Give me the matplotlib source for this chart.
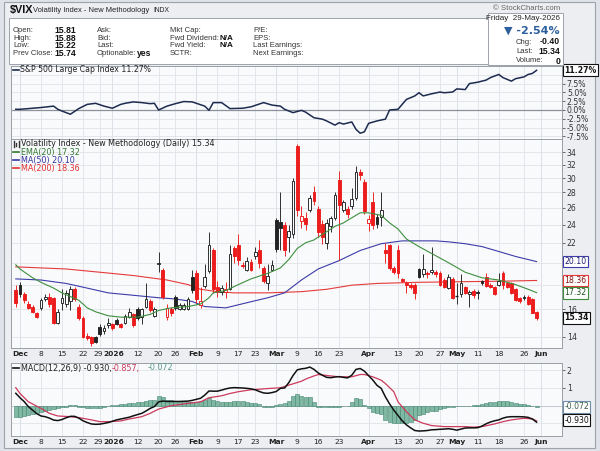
import matplotlib
matplotlib.use('Agg')
import matplotlib.pyplot as plt
from matplotlib.patches import Rectangle
from matplotlib.lines import Line2D
from matplotlib.transforms import blended_transform_factory as blend, ScaledTranslation
import numpy as np

# ---------------- data ----------------
day_idx = list(range(-6, 119))   # trading-day index, 0 = 8 Dec 2025, 118 = 29 May 2026
opens = [17.5, 18.0, 17.2, 16.4, 16.2, 15.7, 16.1, 16.8, 17.0, 16.9, 15.0, 16.5, 16.4, 16.6, 17.6, 16.2,
         15.3, 14.1, 14.0, 14.0, 14.7, 14.4, 14.8, 14.9, 15.2, 14.9, 15.0, 15.4, 15.6, 16.0, 15.4, 16.2,
         16.6, 15.5, 19.9, 19.3, 15.4, 16.0, 17.0, 16.0, 16.05, 16.0, 18.7, 19.0, 16.3, 17.9, 19.2, 21.2,
         17.8, 17.4, 17.4, 17.6, 21.5, 21.8, 19.8, 19.3, 20.1, 20.6, 21.3, 19.5, 18.1, 19.3, 24.5, 24.3,
         24.0, 22.6, 22.9, 35.0, 24.4, 24.8, 25.8, 28.0, 25.9, 24.1, 22.0, 23.8, 24.8, 29.8, 25.8, 25.9,
         26.2, 27.3, 30.9, 29.5, 24.2, 26.8, 24.9, 24.9, 21.2, 21.8, 19.5, 21.2, 18.5, 18.1, 18.0, 18.0,
         19.4, 18.9, 19.0, 19.1, 19.1, 19.0, 18.4, 17.7, 18.5, 17.05, 17.2, 17.8, 17.2, 17.45, 17.35, 18.3,
         18.7, 18.0, 17.8, 18.0, 19.0, 18.1, 18.1, 17.6, 16.9, 17.0, 17.0, 16.8, 15.81]
highs = [18.0, 18.2, 17.4, 16.6, 16.3, 15.8, 16.9, 17.2, 17.3, 17.0, 16.0, 17.6, 17.5, 17.9, 17.8, 16.4,
         15.5, 14.3, 14.1, 14.1, 14.9, 14.8, 15.3, 15.0, 15.3, 15.0, 15.6, 16.1, 15.7, 16.2, 16.1, 18.1,
         16.8, 16.2, 21.0, 19.5, 16.4, 16.2, 17.1, 16.5, 16.5, 17.0, 19.3, 19.3, 17.8, 19.9, 23.2, 21.5,
         18.3, 18.0, 18.2, 21.8, 21.7, 22.9, 20.1, 20.5, 20.4, 21.6, 22.3, 19.7, 19.9, 20.3, 24.8, 28.0,
         24.3, 24.0, 30.0, 35.4, 26.3, 25.5, 27.6, 28.9, 26.3, 24.5, 24.6, 25.0, 28.0, 31.0, 27.0, 26.3,
         28.6, 31.8, 31.3, 29.9, 25.1, 28.0, 25.2, 28.0, 22.0, 21.9, 19.7, 21.8, 18.6, 18.3, 18.1, 18.1,
         19.5, 20.8, 19.2, 21.6, 19.3, 19.2, 18.6, 18.9, 18.7, 18.1, 18.9, 17.9, 17.5, 17.6, 17.5, 18.4,
         19.0, 18.1, 17.9, 19.0, 19.2, 18.2, 18.2, 17.7, 17.0, 17.1, 17.1, 16.9, 15.88]
lows = [16.2, 17.0, 16.5, 16.0, 15.7, 15.3, 15.9, 16.6, 16.2, 14.9, 14.9, 15.9, 16.2, 15.9, 16.6, 15.2,
        13.9, 13.8, 13.4, 13.6, 14.1, 14.2, 14.6, 14.5, 14.8, 14.6, 14.9, 15.3, 14.7, 15.2, 14.9, 16.1,
        15.8, 15.4, 19.1, 16.8, 15.2, 15.5, 15.9, 15.9, 15.9, 15.9, 17.3, 16.5, 16.1, 17.7, 19.0, 17.3,
        17.0, 17.1, 16.9, 17.5, 20.0, 19.8, 19.5, 19.2, 19.2, 20.4, 19.5, 18.1, 17.5, 19.2, 21.0, 21.3,
        20.6, 21.0, 22.5, 25.0, 23.6, 23.4, 25.5, 26.4, 22.6, 21.9, 21.4, 23.2, 24.5, 20.3, 25.5, 24.8,
        25.9, 27.0, 29.7, 25.3, 23.3, 23.5, 23.6, 23.8, 20.0, 19.3, 18.9, 18.6, 18.2, 17.3, 17.6, 16.8,
        18.6, 18.7, 18.6, 18.9, 18.7, 17.9, 17.7, 17.6, 16.8, 16.4, 17.0, 17.2, 16.2, 16.9, 16.8, 18.0,
        17.8, 17.7, 17.1, 17.9, 17.6, 17.7, 17.2, 16.6, 16.5, 16.7, 16.3, 15.7, 15.22]
closes = [16.5, 17.2, 16.7, 16.1, 15.8, 15.4, 16.7, 17.0, 16.4, 15.0, 15.8, 16.9, 17.3, 17.6, 16.8, 15.3,
          14.0, 13.9, 13.6, 13.7, 14.2, 14.6, 15.0, 14.6, 14.9, 14.7, 15.5, 15.8, 14.8, 15.3, 16.0, 16.8,
          15.9, 16.0, 20.0, 17.0, 16.1, 15.7, 16.1, 16.3, 16.35, 16.8, 17.5, 16.8, 16.6, 18.7, 21.8, 17.6,
          17.4, 17.7, 17.6, 20.8, 20.6, 20.3, 19.7, 20.2, 19.3, 21.0, 20.0, 18.3, 18.8, 19.8, 21.4, 23.6,
          21.2, 23.3, 29.6, 25.8, 25.0, 24.1, 27.3, 26.9, 23.2, 22.6, 24.2, 24.8, 27.6, 26.4, 26.7, 25.2,
          27.2, 30.9, 30.5, 25.6, 24.6, 23.9, 24.1, 25.7, 20.9, 19.5, 19.1, 19.0, 18.3, 18.0, 17.8, 17.3,
          18.7, 19.4, 18.9, 19.3, 18.9, 18.0, 17.8, 18.7, 16.9, 17.0, 18.1, 17.3, 17.4, 17.1, 17.25, 18.15,
          17.9, 17.8, 17.2, 18.3, 17.95, 17.8, 17.3, 16.7, 16.65, 16.9, 16.4, 15.74, 15.34]
prev_close_first = 17.0

ema20_idx = [-6, -5, -2, 0, 3, 5, 9, 11, 13, 16, 19, 23, 26, 28, 31, 35, 38, 40, 41, 44, 47, 50, 54, 57,
             59, 61, 63, 65, 67, 70, 72, 74, 76, 78, 81, 83, 85, 87, 90, 93, 97, 101, 105, 109, 113, 116, 118]
ema20_val = [19.8, 19.4, 18.6, 18.2, 17.7, 17.3, 16.7, 16.1, 15.8, 15.5, 15.4, 15.4, 15.6, 15.9, 16.1, 16.2,
             16.4, 16.9, 17.3, 17.5, 18.0, 18.5, 19.0, 19.5, 20.3, 21.4, 22.0, 22.3, 22.9, 23.8, 24.2, 24.8,
             25.4, 25.4, 25.1, 24.2, 23.5, 22.4, 21.6, 20.9, 20.0, 19.1, 18.6, 18.4, 18.0, 17.6, 17.32]
ma50_idx = [-6, 0, 6, 11, 16, 22, 28, 32, 36, 39, 44, 49, 54, 58, 62, 66, 71, 76, 81, 86, 90, 94, 97,
            101, 105, 109, 113, 118]
ma50_val = [18.5, 18.4, 18.1, 17.7, 17.3, 17.1, 16.9, 16.8, 16.6, 16.2, 16.1, 16.5, 16.9, 17.3, 18.4, 19.4,
            20.2, 21.2, 21.9, 22.2, 22.2, 22.2, 22.1, 21.9, 21.6, 21.1, 20.6, 20.10]
ma200_idx = [-6, 6, 14, 22, 30, 35, 38, 42, 46, 54, 62, 68, 74, 80, 90, 100, 110, 118]
ma200_val = [19.6, 19.4, 19.1, 18.8, 18.4, 18.0, 17.6, 17.4, 17.3, 17.3, 17.4, 17.6, 17.95, 18.1, 18.2,
             18.25, 18.3, 18.36]

spx_idx = [-6, -5, -2, 0, 3, 4, 5, 7, 9, 11, 13, 15, 17, 19, 20, 22, 24, 26, 27, 28, 30, 32, 34, 36, 37,
           39, 40, 41, 43, 45, 48, 50, 51, 53, 55, 57, 58, 60, 62, 63, 65, 67, 68, 70, 71, 72, 74, 75, 76,
           77, 78, 80, 82, 83, 85, 86, 87, 89, 90, 91, 93, 95, 96, 98, 99, 101, 102, 104, 106, 107, 109,
           110, 112, 113, 115, 116, 117, 118]
spx_pct = [0.2, 0.2, 0.5, 0.7, 1.1, 0.2, -0.3, -1.2, 0.4, 1.6, 1.9, 1.1, 0.5, 1.6, 1.9, 2.3, 2.1, 1.8, 1.9,
           0.0, 1.1, 1.8, 2.4, 2.3, 1.9, 1.1, -0.1, 2.1, 2.1, 0.4, 0.5, 0.9, 1.3, 2.1, 1.4, 1.1, 0.2, -0.75,
           -0.1, -0.6, -2.2, -2.6, -3.1, -4.3, -3.6, -4.0, -3.4, -5.5, -6.6, -6.2, -3.8, -3.1, -2.6, 0.0,
           0.2, 1.6, 3.0, 4.0, 4.9, 4.0, 4.6, 5.1, 4.9, 5.1, 6.0, 5.8, 7.5, 7.9, 8.5, 9.2, 10.1, 9.2, 8.2,
           8.9, 9.4, 10.1, 10.4, 11.27]

macd_line = [0.70, 0.45, 0.23, -0.05, -0.25, -0.45, -0.58, -0.62, -0.70, -0.81, -0.84, -0.78, -0.68, -0.60,
             -0.60, -0.70, -0.85, -0.95, -1.03, -1.05, -1.04, -1.00, -0.95, -0.88, -0.80, -0.75, -0.70,
             -0.65, -0.57, -0.50, -0.43, -0.30, -0.15, -0.05, 0.22, 0.26, 0.24, 0.24, 0.24, 0.24, 0.25,
             0.26, 0.30, 0.36, 0.42, 0.60, 0.83, 0.82, 0.82, 0.88, 0.95, 1.00, 1.02, 1.01, 1.00, 0.98,
             0.95, 0.90, 0.80, 0.72, 0.70, 0.74, 0.80, 0.98, 1.00, 1.30, 1.70, 2.02, 2.08, 2.11, 2.18,
             2.05, 1.85, 1.72, 1.60, 1.58, 1.62, 1.64, 1.60, 1.57, 1.72, 2.05, 2.10, 1.95, 1.70, 1.45,
             1.15, 0.98, 0.50, 0.10, -0.25, -0.55, -0.85, -1.08, -1.25, -1.40, -1.43, -1.42, -1.40, -1.36,
             -1.35, -1.33, -1.32, -1.30, -1.33, -1.38, -1.32, -1.26, -1.25, -1.25, -1.24, -1.15, -1.02,
             -0.92, -0.85, -0.80, -0.70, -0.64, -0.62, -0.62, -0.62, -0.63, -0.66, -0.75, -0.93]
signal_idx = [-6, -5, -3, 0, 2, 4, 7, 9, 12, 14, 16, 19, 21, 24, 26, 28, 31, 33, 35, 38, 40, 43, 45, 47,
              50, 52, 54, 57, 59, 62, 63, 65, 66, 69, 71, 74, 76, 77, 79, 81, 82, 84, 85, 87, 89, 91, 93,
              96, 98, 101, 103, 105, 108, 110, 112, 115, 117, 118]
signal_val = [1.02, 0.69, 0.22, -0.15, -0.43, -0.58, -0.62, -0.67, -0.80, -0.90, -0.90, -0.86, -0.75,
              -0.62, -0.43, -0.19, 0.0, 0.07, 0.13, 0.22, 0.45, 0.56, 0.69, 0.79, 0.90, 0.93, 0.97, 1.01,
              1.16, 1.38, 1.50, 1.68, 1.76, 1.68, 1.63, 1.63, 1.76, 1.76, 1.63, 1.44, 1.25, 0.79, 0.22,
              -0.34, -0.80, -0.99, -1.12, -1.18, -1.18, -1.18, -1.21, -1.18, -1.03, -0.90, -0.80, -0.71,
              -0.75, -0.857]
macd_hist = [-0.62, -0.62, -0.60, -0.53, -0.48, -0.43, -0.38, -0.32, -0.26, -0.20, -0.15, -0.10, -0.05,
             0.02, 0.03, -0.05, -0.08, -0.12, -0.15, -0.15, -0.12, -0.08, -0.03, 0.02, 0.06, 0.08, 0.10,
             0.15, 0.18, 0.19, 0.20, 0.26, 0.30, 0.32, 0.56, 0.48, 0.35, 0.30, 0.26, 0.25, 0.25, 0.22,
             0.22, 0.20, 0.28, 0.32, 0.45, 0.35, 0.25, 0.22, 0.20, 0.22, 0.26, 0.26, 0.24, 0.20, 0.18,
             0.15, 0.08, -0.05, -0.08, -0.06, 0.02, 0.10, 0.18, 0.25, 0.55, 0.65, 0.56, 0.50, 0.50, 0.22,
             -0.05, -0.08, -0.06, -0.05, -0.05, -0.06, -0.04, 0.0, 0.22, 0.41, 0.40, 0.05, -0.15, -0.34,
             -0.43, -0.45, -0.80, -0.90, -0.95, -0.99, -0.99, -0.98, -0.90, -0.80, -0.52, -0.45, -0.35,
             -0.30, -0.28, -0.20, -0.12, -0.10, -0.06, -0.04, -0.02, -0.01, 0.0, 0.03, 0.04, 0.12, 0.15,
             0.20, 0.22, 0.24, 0.26, 0.26, 0.22, 0.18, 0.12, 0.08, 0.04, -0.02, -0.072]

tick_idx = [-5, 0, 5, 10, 14, 17, 23, 28, 32, 37, 42, 47, 51, 56, 61, 66, 71, 78, 85, 90, 95, 99, 104,
            109, 115, 119]
tick_lab = ['Dec', '8', '15', '22', '29', '2026', '12', '20', '26', 'Feb', '9', '17', '23', 'Mar', '9',
            '16', '23', 'Apr', '13', '20', '27', 'May', '11', '18', '26', 'Jun']
bold_ticks = ['Dec', '2026', 'Feb', 'Mar', 'Apr', 'May', 'Jun']

price_ticks = [14, 16, 18, 20, 22, 24, 26, 28, 30, 32, 34]
price_hidden = [18, 20]            # labels covered by value tags in the reference
spx_ticks = [-7.5, -5.0, -2.5, 0.0, 2.5, 5.0, 7.5, 10.0]
spx_hidden = [10.0]
macd_ticks = [-1, 0, 1, 2]
macd_hidden = [-1, 0]

# ---------------- figure ----------------
W, H = 600, 451
fig = plt.figure(figsize=(6.0, 4.51), dpi=100)
fig.patch.set_facecolor('#dfe2e8')
FONT = 'DejaVu Sans'
HFONT = 'Liberation Sans'

def fx(x):
    return x / W

def fy(y):
    return 1 - y / H

fig.add_artist(Rectangle((fx(4), fy(448)), (595 - 4) / W, (448 - 2) / H, transform=fig.transFigure,
                         facecolor='#eceef2', edgecolor='#9ea3ab', lw=0.8, zorder=0))

PLOT_BG = '#f9fafc'
GRID = '#e0e3e9'
MGRID = '#c9cdd5'
XL = (-7.14, 124.05)
RED = '#ec1c1c'
BLK = '#222222'
TICKFS = 5.6
XTICKFS = 5.4


def add_ax(x0, y0, x1, y1):
    ax = fig.add_axes([fx(x0), fy(y1), (x1 - x0) / W, (y1 - y0) / H])
    ax.set_facecolor(PLOT_BG)
    ax.set_xlim(*XL)
    for s in ax.spines.values():
        s.set_color('#9a9ea6')
        s.set_linewidth(0.7)
    ax.yaxis.tick_right()
    ax.tick_params(axis='y', labelsize=TICKFS, length=2, width=0.5, pad=1.5, colors='#333333')
    ax.set_xticks(tick_idx)
    ax.tick_params(axis='x', length=0, pad=2.5, labelsize=XTICKFS, colors='#222222')
    ax.xaxis.grid(True, color=GRID, lw=0.6)
    ax.yaxis.grid(True, color=GRID, lw=0.6)
    ax.set_axisbelow(True)
    for t, lab in zip(tick_idx, tick_lab):
        if lab in bold_ticks:
            ax.axvline(t, color=MGRID, lw=0.6, zorder=0.5)
    return ax


def set_xlabels(ax, show):
    if show:
        ax.set_xticklabels(tick_lab, fontfamily=FONT)
        for tl in ax.get_xticklabels():
            txt = tl.get_text()
            if txt in bold_ticks:
                tl.set_fontweight('bold')
            # "29" and "2026" sit side by side, as in the reference
            if txt == '29':
                tl.set_transform(tl.get_transform() + ScaledTranslation(-1.6 / 100, 0, fig.dpi_scale_trans))
            if txt == '2026':
                tl.set_transform(tl.get_transform() + ScaledTranslation(1.6 / 100, 0, fig.dpi_scale_trans))
    else:
        ax.set_xticklabels([])


def tag(ax, y, text, ec, bold=False, color='#111111'):
    tr = blend(ax.transAxes, ax.transData)
    ax.text(1.004, y, text, transform=tr, ha='left', va='center', fontsize=5.6, fontfamily=FONT,
            color=color, fontweight='bold' if bold else 'normal', zorder=10,
            bbox=dict(boxstyle='square,pad=0.18', fc='white', ec=ec, lw=0.8))

# ---------- S&P panel ----------
axs = add_ax(11, 66, 562, 139)
axs.set_ylim(-8.24, 12.5)
axs.set_yticks(spx_ticks)
axs.set_yticklabels(['' if v in spx_hidden else f'{v:.1f}%' for v in spx_ticks], fontfamily=FONT)
set_xlabels(axs, False)
axs.axhline(0, color='#8d9199', lw=0.9, zorder=1)
axs.plot(spx_idx, spx_pct, color='#1d2b4f', lw=1.1, zorder=3)
tag(axs, spx_pct[-1], f'{spx_pct[-1]:.2f}%', '#111111', bold=True)
fig.add_artist(Line2D([fx(13), fx(18.5)], [fy(70), fy(70)], transform=fig.transFigure, color='#1d2b4f',
                      lw=1.2))
fig.text(fx(20), fy(70), f'S&P 500 Large Cap Index {spx_pct[-1]:.2f}%', fontsize=5.6, color='#222222',
         va='center', ha='left', fontfamily=FONT)

# ---------- price panel ----------
axm = add_ax(11, 139, 562, 348)
axm.set_yscale('log')
axm.set_ylim(13.28, 36.19)
axm.set_yticks(price_ticks)
axm.set_yticklabels(['' if v in price_hidden else str(v) for v in price_ticks], fontfamily=FONT)
axm.minorticks_off()
axm.yaxis.set_minor_locator(matplotlib.ticker.NullLocator())
set_xlabels(axm, True)

w = 0.7
prev = prev_close_first
for i, o, h, l, c in zip(day_idx, opens, highs, lows, closes):
    col = RED if c < prev else BLK
    axm.vlines(i, l, h, color=col, lw=0.65, zorder=3)
    lo, hi = min(o, c), max(o, c)
    if hi / lo < 1.004:
        axm.hlines(o, i - w / 2, i + w / 2, color=col, lw=1.0, zorder=4)
    else:
        fc = col if c < o else 'white'
        axm.add_patch(Rectangle((i - w / 2, lo), w, hi - lo, facecolor=fc, edgecolor=col, lw=0.65, zorder=4))
    prev = c

axm.plot(ma200_idx, ma200_val, color='#e53a3a', lw=0.8, zorder=2)
axm.plot(ma50_idx, ma50_val, color='#3c3ca8', lw=0.8, zorder=2)
axm.plot(ema20_idx, ema20_val, color='#3d8f3d', lw=0.8, zorder=5)

tag(axm, ma50_val[-1], f'{ma50_val[-1]:.2f}', '#3c3ca8', color='#1d1d70')
tag(axm, ma200_val[-1], f'{ma200_val[-1]:.2f}', '#e53a3a', color='#8a1010')
tag(axm, ema20_val[-1], f'{ema20_val[-1]:.2f}', '#3d8f3d', color='#1b4f1b')
tag(axm, closes[-1], f'{closes[-1]:.2f}', '#111111', bold=True)


def ltxt(y, text, color, dash=True):
    fig.text(fx(21), fy(y), text, fontsize=5.8, color=color, va='center', ha='left', fontfamily=FONT)
    if dash:
        fig.add_artist(Line2D([fx(13), fx(19)], [fy(y), fy(y)], transform=fig.transFigure, color=color,
                              lw=1.2))

ltxt(144, f'Volatility Index - New Methodology (Daily) {closes[-1]:.2f}', '#222222', dash=False)
for dx, yy0, yy1 in [(13.5, 141, 147), (16, 142.5, 146), (18.5, 141, 147)]:
    fig.add_artist(Line2D([fx(dx), fx(dx)], [fy(yy0), fy(yy1)], transform=fig.transFigure, color='#333333',
                          lw=1.0))
ltxt(152, f'EMA(20) {ema20_val[-1]:.2f}', '#2f7a2f')
ltxt(160, f'MA(50) {ma50_val[-1]:.2f}', '#3636a0')
ltxt(168, f'MA(200) {ma200_val[-1]:.2f}', '#e03030')

# ---------- MACD panel ----------
axd = add_ax(11, 363, 562, 436)
axd.set_ylim(-1.71, 2.41)
axd.set_yticks(macd_ticks)
axd.set_yticklabels(['' if v in macd_hidden else str(v) for v in macd_ticks], fontfamily=FONT)
set_xlabels(axd, True)
axd.bar(day_idx, macd_hist, width=0.92, color='#80b8a4', edgecolor='#448672', lw=0.4, zorder=2)
axd.axhline(0, color='#b8bcc4', lw=0.5, zorder=1)
axd.plot(signal_idx, signal_val, color='#cc3a5c', lw=0.9, zorder=3)
axd.plot(day_idx, macd_line, color='#111111', lw=1.1, zorder=4)
tag(axd, macd_hist[-1], f'{macd_hist[-1]:.3f}', '#6f8fb0', color='#3a5a4a')
tag(axd, macd_line[-1] + 0.12, f'{macd_line[-1]:.3f}', '#111111', color='#111111')

fig.add_artist(Line2D([fx(13), fx(19)], [fy(368), fy(368)], transform=fig.transFigure, color='#111111',
                      lw=1.2))
fig.text(fx(21), fy(368), f'MACD(12,26,9) {macd_line[-1]:.3f},', fontsize=5.8, color='#222222',
         va='center', ha='left', fontfamily=FONT)
fig.text(fx(112), fy(368), f'{signal_val[-1]:.3f},', fontsize=5.8, color='#cc3a5c', va='center', ha='left',
         fontfamily=FONT)
fig.text(fx(148), fy(368), f'{macd_hist[-1]:.3f}', fontsize=5.8, color='#5a9a86', va='center', ha='left',
         fontfamily=FONT)

# ---------- header ----------
fig.add_artist(Rectangle((fx(9), fy(64)), (563 - 9) / W, (64 - 18) / H, transform=fig.transFigure,
                         facecolor='white', edgecolor='#9ea3ab', lw=0.7, zorder=1))
fig.add_artist(Rectangle((fx(488), fy(65)), (563 - 488) / W, (65 - 13) / H, transform=fig.transFigure,
                         facecolor='white', edgecolor='#9ea3ab', lw=0.7, zorder=1))

fig.text(fx(10), fy(10), '$VIX', fontsize=7.8, fontweight='bold', fontfamily=HFONT, va='center', color='#111111')
fig.text(fx(33), fy(10), 'Volatility Index - New Methodology', fontsize=5.4, fontfamily=HFONT, va='center',
         color='#222222')
fig.text(fx(153), fy(10.5), 'INDX', fontsize=4.9, fontfamily=HFONT, va='center', color='#222222')
fig.text(fx(560), fy(8), '\u00a9 StockCharts.com', fontsize=5.6, fontfamily=HFONT, va='center', ha='right',
         color='#666666')

rows_y = [30.5, 38.2, 45.9, 53.6]
col1 = [('Open:', '15.81'), ('High:', '15.88'), ('Low:', '15.22'), ('Prev Close:', '15.74')]
col2 = [('Ask:', ''), ('Bid:', ''), ('Last:', ''), ('Optionable:', 'yes')]
col3 = [('Mkt Cap:', ''), ('Fwd Dividend:', 'N/A'), ('Fwd Yield:', 'N/A'), ('SCTR:', '')]
col4 = [('P/E:', ''), ('EPS:', ''), ('Last Earnings:', ''), ('Next Earnings:', '')]
LBL = 5.5
VAL = 6.2
for y, (a, b) in zip(rows_y, col1):
    fig.text(fx(13), fy(y), a, fontsize=LBL, fontfamily=HFONT, va='center', color='#333333', zorder=3)
    fig.text(fx(54), fy(y), b, fontsize=VAL, fontweight='bold', fontfamily=HFONT, va='center',
             color='#111111', zorder=3)
for y, (a, b) in zip(rows_y, col2):
    fig.text(fx(97), fy(y), a, fontsize=LBL, fontfamily=HFONT, va='center', color='#333333', zorder=3)
    if b:
        fig.text(fx(137), fy(y), b, fontsize=VAL, fontweight='bold', fontfamily=HFONT, va='center',
                 color='#111111', zorder=3)
for y, (a, b) in zip(rows_y, col3):
    fig.text(fx(170), fy(y), a, fontsize=LBL, fontfamily=HFONT, va='center', color='#333333', zorder=3)
    if b:
        fig.text(fx(219), fy(y), b, fontsize=5.9, fontweight='bold', fontfamily=HFONT, va='center',
                 color='#111111', zorder=3)
for y, (a, b) in zip(rows_y, col4):
    fig.text(fx(253), fy(y), a, fontsize=LBL, fontfamily=HFONT, va='center', color='#333333', zorder=3)

fig.text(fx(560), fy(18), 'Friday  29-May-2026', fontsize=5.8, fontfamily=HFONT, va='center', ha='right',
         color='#222222', zorder=3)
fig.text(fx(560), fy(30.5), '\u25bc -2.54%', fontsize=8.0, fontweight='bold', fontfamily=FONT, va='center',
         ha='right', color='#2d5f9e', zorder=3)
for y, a, b in [(42, 'Chg:', '-0.40'), (51.5, 'Last:', '15.34'), (61, 'Volume:', '0')]:
    fig.text(fx(516), fy(y), a, fontsize=LBL, fontfamily=HFONT, va='center', color='#333333', zorder=3)
    fig.text(fx(560), fy(y), b, fontsize=VAL, fontweight='bold', fontfamily=HFONT, va='center', ha='right',
             color='#111111', zorder=3)

fig.savefig('out.png', dpi=100, facecolor=fig.get_facecolor())
